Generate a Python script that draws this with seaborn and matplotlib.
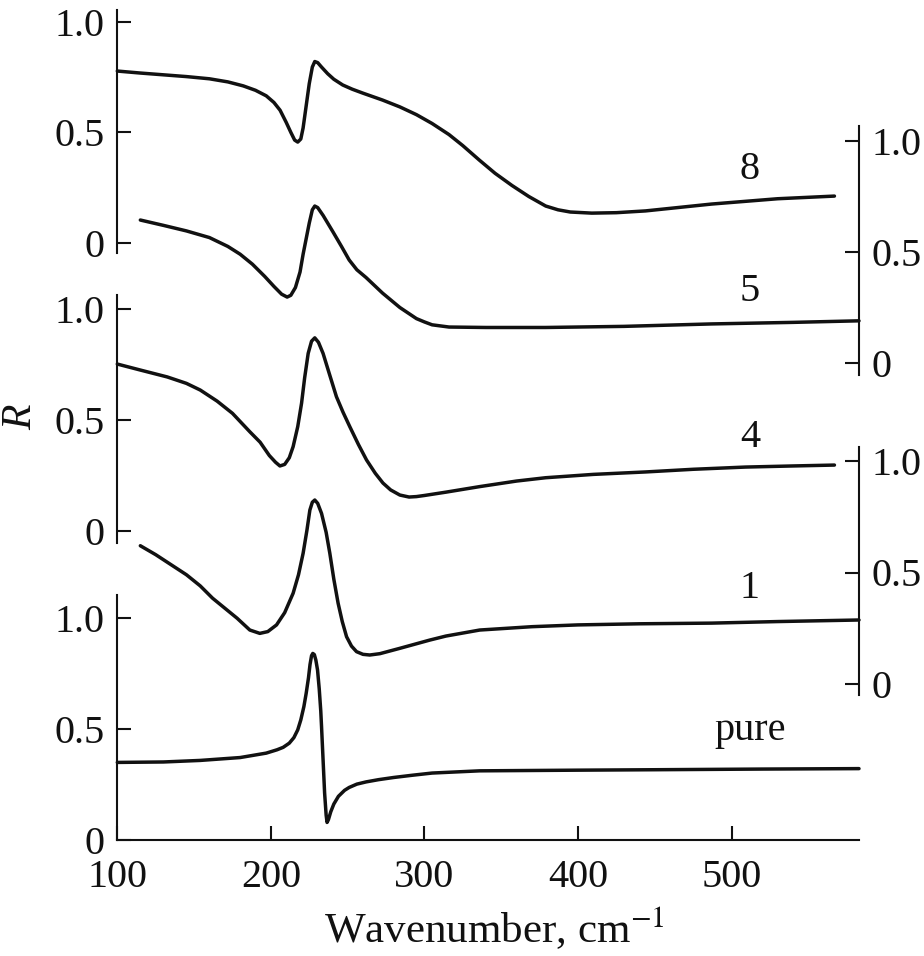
import matplotlib
matplotlib.use("Agg")
import matplotlib.pyplot as plt
import seaborn as sns

# curve 8 (upper left scale)
wn_8 = [100, 115, 130, 145, 160, 172, 182, 190, 197, 202, 206, 210, 213, 215.5, 217.5,
        219.5, 221, 223, 225, 227, 228.6, 230.5, 233, 237, 241, 246.8, 253, 260, 272.7,
        284, 294.8, 305, 316, 325, 335.7, 346, 357, 368, 379, 387, 395, 409, 425, 444,
        487, 530, 567]
r_8 = [0.777, 0.768, 0.76, 0.752, 0.742, 0.728, 0.71, 0.69, 0.665, 0.635, 0.60, 0.545,
       0.50, 0.465, 0.456, 0.47, 0.52, 0.62, 0.72, 0.795, 0.82, 0.815, 0.795, 0.765,
       0.74, 0.714, 0.695, 0.677, 0.646, 0.615, 0.58, 0.54, 0.49, 0.44, 0.375, 0.315,
       0.26, 0.21, 0.167, 0.15, 0.14, 0.135, 0.137, 0.145, 0.176, 0.20, 0.212]

# curve 5 (upper right scale)
wn_5 = [115, 130, 145, 160, 172, 180, 188, 196, 202, 207, 210.6, 213, 216, 219, 221,
        223, 225, 227, 228.6, 230.5, 234, 240.5, 246, 251, 256, 262, 272.7, 284, 294.8,
        300, 305, 316, 340, 379, 430, 487, 540, 583]
r_5 = [0.644, 0.62, 0.595, 0.565, 0.525, 0.49, 0.445, 0.39, 0.345, 0.31, 0.297, 0.305,
       0.34, 0.41, 0.49, 0.56, 0.63, 0.69, 0.707, 0.70, 0.665, 0.59, 0.525, 0.464, 0.42,
       0.385, 0.315, 0.25, 0.20, 0.185, 0.172, 0.162, 0.16, 0.16, 0.165, 0.176, 0.183,
       0.19]

# curve 4 (middle left scale)
wn_4 = [100, 115, 132.5, 145, 154, 165, 175, 186.3, 193, 199, 203, 205.9, 209, 212,
        214.5, 217.5, 220, 222, 224.3, 226.5, 228.6, 231, 234, 238, 242.7, 247, 251.4,
        257, 262.3, 268, 273, 278, 284, 290, 294.8, 300, 314, 336, 360, 379, 410, 444,
        475, 509, 540, 567]
r_4 = [0.752, 0.725, 0.694, 0.665, 0.635, 0.585, 0.53, 0.447, 0.40, 0.34, 0.31, 0.293,
       0.30, 0.33, 0.38, 0.47, 0.576, 0.69, 0.80, 0.855, 0.87, 0.85, 0.80, 0.71, 0.605,
       0.535, 0.47, 0.39, 0.32, 0.26, 0.216, 0.185, 0.162, 0.153, 0.155, 0.16, 0.175,
       0.20, 0.225, 0.24, 0.255, 0.266, 0.278, 0.288, 0.293, 0.297]

# curve 1 (lower right scale)
wn_1 = [115, 125, 135, 145, 154, 162, 170, 178, 186.3, 192.8, 198, 203.7, 209, 214.5,
        218, 221, 223.5, 225.4, 227, 228.6, 230.5, 233, 236, 238.4, 241, 243.8, 246.5,
        249.3, 252.5, 255.8, 260, 264.4, 271, 284, 303.5, 314, 336, 370, 400, 440, 487,
        530, 583]
r_1 = [0.62, 0.58, 0.535, 0.49, 0.44, 0.385, 0.34, 0.295, 0.242, 0.227, 0.235, 0.265,
       0.32, 0.407, 0.49, 0.586, 0.69, 0.78, 0.815, 0.825, 0.81, 0.765, 0.68, 0.586,
       0.47, 0.362, 0.28, 0.212, 0.17, 0.145, 0.133, 0.13, 0.136, 0.16, 0.197, 0.215,
       0.242, 0.257, 0.265, 0.27, 0.273, 0.28, 0.287]

# pure (lower left scale)
wn_pure = [100, 130, 154, 180, 197, 204, 208, 212, 215, 217.5, 219.5, 221.5, 223, 224.5,
           225.5, 226.5, 227.3, 228.3, 229.3, 230.4, 231.5, 232.5, 233, 234, 235, 236,
           236.6, 237.5, 239, 241, 244, 248, 251, 256, 262, 270, 280, 292, 305, 336, 400,
           450, 520, 583]
r_pure = [0.348, 0.35, 0.357, 0.37, 0.39, 0.405, 0.416, 0.435, 0.46, 0.495, 0.54, 0.60,
          0.66, 0.73, 0.79, 0.83, 0.84, 0.835, 0.81, 0.765, 0.68, 0.58, 0.51, 0.36, 0.21,
          0.11, 0.077, 0.09, 0.125, 0.16, 0.195, 0.222, 0.235, 0.25, 0.26, 0.27, 0.28,
          0.29, 0.30, 0.31, 0.313, 0.315, 0.318, 0.32]

y_ticks = [0, 0.5, 1.0]
y_tick_labels = ["0", "0.5", "1.0"]
x_ticks = [100, 200, 300, 400, 500]
x_tick_labels = ["100", "200", "300", "400", "500"]

sns.set_style("ticks")
plt.rcParams["font.family"] = ["Liberation Serif", "DejaVu Serif"]
plt.rcParams["mathtext.fontset"] = "stix"
plt.rcParams["lines.solid_joinstyle"] = "round"
plt.rcParams["lines.solid_capstyle"] = "round"

INK = "#111111"
W, H = 924, 956
X_LEFT, X_RIGHT = 117.3, 859
FS = 29

fig = plt.figure(figsize=(W / 100, H / 100), dpi=100)


def panel(y_top, y_bot, y_zero, y_one, side):
    ax = fig.add_axes([X_LEFT / W, 1 - y_bot / H, (X_RIGHT - X_LEFT) / W, (y_bot - y_top) / H])
    scale = y_zero - y_one
    ax.set_ylim((y_zero - y_bot) / scale, (y_zero - y_top) / scale)
    ax.set_xlim(100, 583)
    ax.patch.set_visible(False)
    for s in ["top", "bottom", "left", "right"]:
        ax.spines[s].set_visible(False)
    ax.spines[side].set_visible(True)
    ax.spines[side].set_linewidth(1.5)
    ax.spines[side].set_color(INK)
    ax.yaxis.set_ticks_position(side)
    ax.set_yticks(y_ticks)
    ax.set_yticklabels(y_tick_labels)
    ax.tick_params(axis="y", direction="in", length=10, width=1.5, pad=9,
                   labelsize=FS, color=INK, labelcolor=INK)
    ax.set_xticks([])
    return ax


def curve(ax, x, y):
    sns.lineplot(x=x, y=y, ax=ax, color=INK, lw=2.5, sort=False, estimator=None)
    for ln in ax.lines:
        ln.set_clip_on(False)
    ax.set_xlabel("")
    ax.set_ylabel("")


ax8 = panel(10, 253, 243, 21.7, "left")
ax5 = panel(126, 375, 363, 141, "right")
ax4 = panel(295, 543, 531, 309, "left")
ax1 = panel(447, 695, 684, 461, "right")
axp = panel(595, 839.5, 839.5, 618, "left")
axp.set_ylim(0, (839.5 - 595) / (839.5 - 618))

curve(ax8, wn_8, r_8)
curve(ax5, wn_5, r_5)
curve(ax4, wn_4, r_4)
curve(ax1, wn_1, r_1)
curve(axp, wn_pure, r_pure)

axp.spines["bottom"].set_visible(True)
axp.spines["bottom"].set_linewidth(1.5)
axp.spines["bottom"].set_color(INK)
axp.set_xticks(x_ticks)
axp.set_xticklabels(x_tick_labels)
axp.tick_params(axis="x", direction="in", length=10, width=1.5, pad=14,
                labelsize=FS, color=INK, labelcolor=INK)

lab = dict(fontsize=FS, color=INK, ha="center", va="center")
ax8.text(512, 0.33, "8", **lab)
ax5.text(512, 0.32, "5", **lab)
ax4.text(512, 0.42, "4", **lab)
ax1.text(512, 0.43, "1", **lab)
axp.text(512, 0.45, "pure", fontsize=FS, color=INK, ha="center", va="baseline")

fig.text(494 / W, 1 - 943 / H, "Wavenumber, cm$^{-1}$", fontsize=31, color=INK,
         ha="center", va="baseline")
fig.text(21 / W, 1 - 417 / H, "R", fontsize=30, style="italic", color=INK,
         rotation=90, ha="center", va="center")

fig.savefig("out.png", dpi=100)
